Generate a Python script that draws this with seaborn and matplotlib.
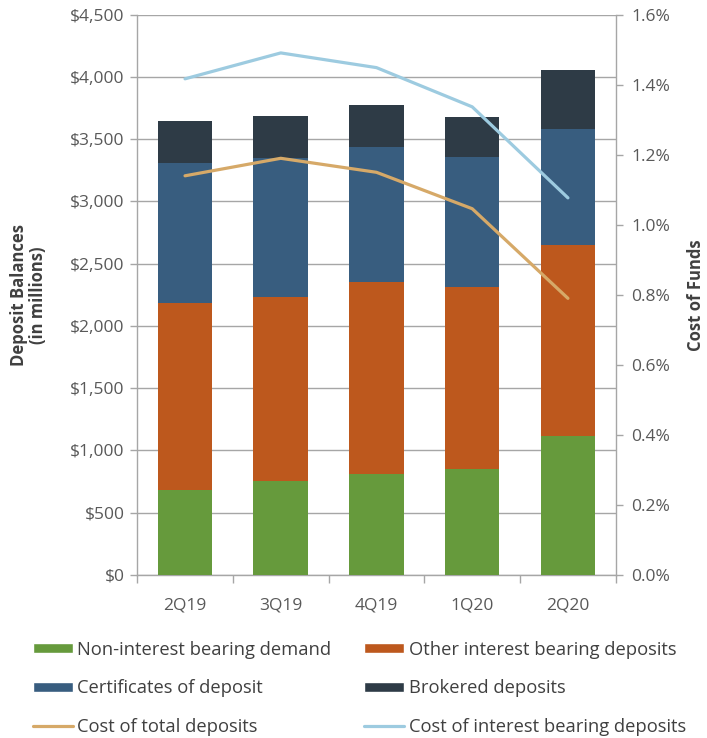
import matplotlib
matplotlib.use("Agg")
import matplotlib.pyplot as plt
import seaborn as sns
import numpy as np
import pandas as pd
from matplotlib.patches import Patch
from matplotlib.lines import Line2D
from matplotlib.ticker import FuncFormatter, MultipleLocator

quarters = ["2Q19", "3Q19", "4Q19", "1Q20", "2Q20"]
non_interest = [683, 755, 812, 852, 1117]
other_interest = [1503, 1479, 1543, 1462, 1535]
certificates = [1125, 1117, 1085, 1047, 932]
brokered = [337, 337, 337, 319, 474]
cost_total = [1.14, 1.19, 1.15, 1.046, 0.79]
cost_interest = [1.417, 1.491, 1.449, 1.337, 1.077]

series_names = ["Non-interest bearing demand", "Other interest bearing deposits",
                "Certificates of deposit", "Brokered deposits"]
series_vals = [non_interest, other_interest, certificates, brokered]
colors = ["#669A3C", "#BD581D", "#385D7F", "#2E3B46"]
line_colors = ["#D6A968", "#9DCBE0"]
grey = "#595959"

sns.set_theme(style="white")
plt.rcParams["font.family"] = ["Open Sans", "DejaVu Sans"]

fig = plt.figure(figsize=(7.07, 7.38), dpi=100)
ax = fig.add_axes([0.194, 0.221, 0.677, 0.759])

cum = np.cumsum(np.array(series_vals), axis=0)
for i in reversed(range(4)):
    df = pd.DataFrame({"q": quarters, "v": cum[i]})
    sns.barplot(data=df, x="q", y="v", color=colors[i], width=0.57,
                saturation=1, ax=ax, zorder=3, order=quarters,
                linewidth=0, edgecolor="none")

ax.set_ylim(0, 4500)
ax.set_xlim(-0.5, 4.5)
ax.yaxis.set_major_locator(MultipleLocator(500))
ax.yaxis.set_major_formatter(FuncFormatter(lambda v, p: f"${v:,.0f}"))
ax.grid(axis="y", color="#A6A6A6", linewidth=1, zorder=0)
ax.grid(axis="x", visible=False)
ax.set_axisbelow(True)
for s in ["top", "right"]:
    ax.spines[s].set_visible(False)
for s in ["left", "bottom"]:
    ax.spines[s].set_color("#A6A6A6")
    ax.spines[s].set_linewidth(1)
ax.set_xlabel("")
ax.set_ylabel("Deposit Balances\n(in millions)", fontsize=12, fontweight="bold",
              color="#404040", labelpad=17, linespacing=1.05)
ax.tick_params(axis="y", colors=grey, labelsize=12.5, length=5, width=1,
               left=True, direction="out", labelcolor=grey, pad=4)
ax.tick_params(axis="y", color="#A6A6A6")
ax.set_xticks(range(5))
ax.set_xticklabels(quarters)
ax.tick_params(axis="x", labelsize=12.5, labelcolor=grey, length=0, pad=16)
ax.set_xticks(np.arange(-0.5, 5.0, 1.0), minor=True)
ax.tick_params(axis="x", which="minor", length=6, color="#A6A6A6", width=1, bottom=True)

ax2 = ax.twinx()
ldf = pd.DataFrame({"q": quarters, "total": cost_total, "ib": cost_interest})
sns.lineplot(data=ldf, x="q", y="total", color=line_colors[0], linewidth=2.3,
             ax=ax2, sort=False)
sns.lineplot(data=ldf, x="q", y="ib", color=line_colors[1], linewidth=2.3,
             ax=ax2, sort=False)
ax2.set_ylim(0, 1.6)
ax2.set_xlim(-0.5, 4.5)
ax2.yaxis.set_major_locator(MultipleLocator(0.2))
ax2.yaxis.set_major_formatter(FuncFormatter(lambda v, p: f"{v:.1f}%"))
for s in ["top", "left", "bottom"]:
    ax2.spines[s].set_visible(False)
ax2.spines["right"].set_color("#A6A6A6")
ax2.spines["right"].set_linewidth(1)
ax2.grid(False)
ax2.tick_params(axis="y", labelsize=12.5, labelcolor=grey, color="#A6A6A6",
                length=5, width=1, right=True, direction="out", pad=6)
ax2.set_ylabel("Cost of Funds", fontsize=12, fontweight="bold", color="#404040",
               labelpad=12)
ax2.set_xlabel("")

h_all = [Patch(facecolor=colors[0]), Patch(facecolor=colors[1]),
         Patch(facecolor=colors[2]), Patch(facecolor=colors[3]),
         Line2D([], [], color=line_colors[0], linewidth=2.3),
         Line2D([], [], color=line_colors[1], linewidth=2.3)]
l_all = series_names + ["Cost of total deposits", "Cost of interest bearing deposits"]
order = [0, 2, 4, 1, 3, 5]
handles = [h_all[i] for i in order]
labels = [l_all[i] for i in order]
leg = fig.legend(handles, labels, loc="upper left", bbox_to_anchor=(0.046, 0.132),
                 ncol=2, frameon=False, fontsize=13.2, handlelength=2.2,
                 handleheight=0.45, handletextpad=0.25, columnspacing=1.75,
                 labelspacing=1.13, borderaxespad=0, borderpad=0)
for t in leg.get_texts():
    t.set_color("#404040")

fig.savefig("out.png", dpi=100)
